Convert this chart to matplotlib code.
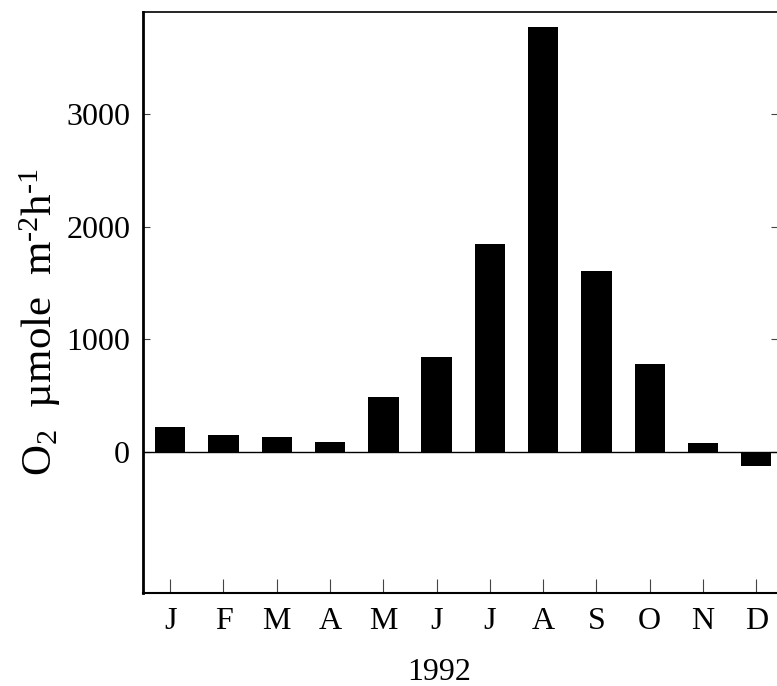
import matplotlib
matplotlib.use('Agg')
import matplotlib.pyplot as plt

months = ['J', 'F', 'M', 'A', 'M', 'J', 'J', 'A', 'S', 'O', 'N', 'D']
o2_flux = [218, 150, 133, 86, 486, 848, 1845, 3780, 1608, 782, 76, -122]
y_ticks = [0, 1000, 2000, 3000]
year_label = '1992'

plt.rcParams['font.family'] = ['Liberation Serif', 'DejaVu Serif']
plt.rcParams['mathtext.fontset'] = 'custom'
plt.rcParams['mathtext.rm'] = 'Liberation Serif'
plt.rcParams['mathtext.it'] = 'Liberation Serif:italic'

fig = plt.figure(figsize=(7.77, 6.86), dpi=100)
ax = fig.add_axes([0.1837, 0.1356, 0.8177, 0.8469])

x = list(range(len(months)))
ax.bar(x, o2_flux, width=0.57, color='black', edgecolor='none')
ax.axhline(0, color='black', linewidth=1.0)

ax.set_xlim(-0.516, 11.41)
ax.set_ylim(-1253, 3910)
ax.set_xticks(x)
ax.set_xticklabels(months)
ax.set_yticks(y_ticks)

ax.tick_params(axis='x', direction='in', length=10, width=0.8, color='#444444',
               labelsize=23, pad=10)
ax.tick_params(axis='y', direction='in', length=5, width=0.8, color='#444444',
               labelsize=23, pad=9, right=True)

ax.spines['left'].set_linewidth(2.0)
ax.spines['bottom'].set_linewidth(1.5)
ax.spines['top'].set_linewidth(1.2)
ax.spines['right'].set_linewidth(1.0)

fig.text(0.1837 + 0.8177 * 0.466, 0.0204, year_label, fontsize=23,
         ha='center', va='center')
# short hyphens in the exponents, like the original typesetting
ax.set_ylabel('O$_2$  \u00b5mole  m$^{\u20102}$h$^{\u20101}$', fontsize=31)
ax.yaxis.set_label_coords(-0.125, 0.466)

plt.savefig('out.png', dpi=100)
